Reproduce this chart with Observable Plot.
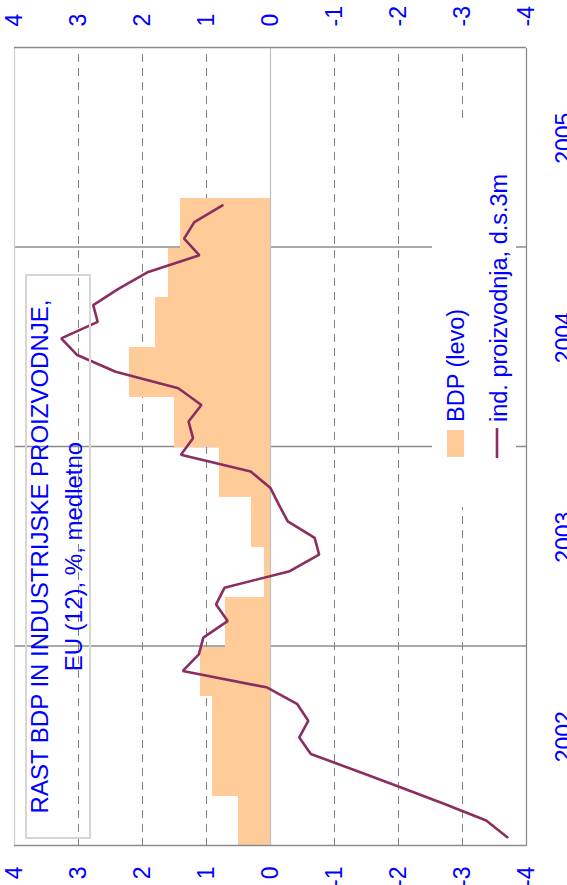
<!DOCTYPE html>
<html>
<head>
<meta charset="utf-8">
<script src="https://cdn.jsdelivr.net/npm/d3@7"></script>
<script src="https://cdn.jsdelivr.net/npm/@observablehq/plot@0.6"></script>
<style>
  html, body { margin: 0; padding: 0; overflow: hidden; background: #fff; width: 567px; height: 885px; }
  #rot { position: absolute; left: 0; top: 0; width: 885px; height: 567px;
         transform-origin: 0 0; transform: translate(0px, 885px) rotate(-90deg); }
  #rot svg { position: absolute; left: 0; top: 0; max-width: none; }
</style>
</head>
<body>
<div id="rot"></div>
<script>
// ---- data ----
const quarters = ["2002Q1","2002Q2","2002Q3","2002Q4","2003Q1","2003Q2","2003Q3","2003Q4",
                  "2004Q1","2004Q2","2004Q3","2004Q4","2005Q1"];
const gdpGrowth = [0.5, 0.9, 0.9, 1.1, 0.7, 0.1, 0.3, 0.8, 1.5, 2.2, 1.8, 1.6, 1.4];

const months = ["2002-01","2002-02","2002-03","2002-04","2002-05","2002-06","2002-07","2002-08","2002-09","2002-10","2002-11","2002-12",
                "2003-01","2003-02","2003-03","2003-04","2003-05","2003-06","2003-07","2003-08","2003-09","2003-10","2003-11","2003-12",
                "2004-01","2004-02","2004-03","2004-04","2004-05","2004-06","2004-07","2004-08","2004-09","2004-10","2004-11","2004-12",
                "2005-01","2005-02","2005-03"];
const indProduction = [-3.70, -3.37, -2.72, -2.03, -1.34, -0.63, -0.45, -0.59, -0.42, 0.05, 1.37, 1.12,
                       1.05, 0.67, 0.85, 0.72, -0.30, -0.76, -0.69, -0.27, -0.13, 0.00, 0.31, 1.40,
                       1.21, 1.28, 1.08, 1.44, 2.42, 3.02, 3.27, 2.70, 2.77, 2.37, 1.91, 1.11,
                       1.35, 1.19, 0.75];

const valueTicks = [4, 3, 2, 1, 0, -1, -2, -3, -4];
const yearLabels = [2002, 2003, 2004, 2005];
const gridValues = [3, 2, 1, -1, -2, -3];
const yearBoundaries = [2003, 2004, 2005];

const titleLines = ["RAST BDP IN INDUSTRIJSKE PROIZVODNJE,", "EU (12), %, medletno"];
const legendLabels = ["BDP (levo)", "ind. proizvodnja, d.s.3m"];

// ---- derived tables ----
const gdpData = quarters.map((q, i) => {
  const yr = +q.slice(0, 4), qn = +q.slice(5);
  const x1 = yr + (qn - 1) / 4;
  return {x1, x2: x1 + 0.25, v: gdpGrowth[i]};
});
const ipData = months.map((m, i) => {
  const yr = +m.slice(0, 4), mn = +m.slice(5);
  return {t: yr + (mn - 0.5) / 12, v: indProduction[i]};
});
const yearMid = yearLabels.map(y => y + 0.5);

const FONT = "Liberation Sans, Arial, Helvetica, sans-serif";
const BLUE = "#0000ff";
const LINE = "#8b2d5f";
const BAR = "#ffcc99";

const chart = Plot.plot({
  width: 885, height: 567,
  marginLeft: 39, marginRight: 48, marginTop: 14, marginBottom: 41,
  x: {domain: [2002, 2006], label: null},
  y: {domain: [-4, 4], label: null},
  style: {fontFamily: FONT, fontSize: "23px", color: BLUE, background: "transparent"},
  marks: [
    Plot.ruleY(gridValues, {stroke: "#808080", strokeDasharray: "8,6", strokeWidth: 1}),
    Plot.ruleX(yearBoundaries, {stroke: "#8c8c8c", strokeWidth: 1.3}),
    Plot.rect(gdpData, {x1: "x1", x2: "x2", y1: () => 0, y2: "v", fill: BAR, shapeRendering: "crispEdges"}),
    Plot.ruleY([0], {stroke: "#c4c4c4", strokeWidth: 1.3}),
    Plot.ruleY([4], {stroke: "#cfcfcf", strokeWidth: 1.3}),
    Plot.ruleY([-4], {stroke: "#8c8c8c", strokeWidth: 1.3}),
    Plot.ruleX([2002, 2006], {stroke: "#8c8c8c", strokeWidth: 1.3}),
    Plot.line(ipData, {x: "t", y: "v", stroke: LINE, strokeWidth: 2.6, strokeLinejoin: "miter"}),
    Plot.axisY(valueTicks, {anchor: "left", tickSize: 0, tickPadding: 21, fontSize: 23, label: null, tickFormat: d => String(d)}),
    Plot.axisY(valueTicks, {anchor: "right", tickSize: 0, tickPadding: 21, fontSize: 23, label: null, tickFormat: d => String(d)}),
    Plot.axisX(yearMid, {anchor: "bottom", tickSize: 0, tickPadding: 29, fontSize: 23, label: null, dx: 9,
                         tickFormat: d => String(Math.floor(d))})
  ]
});
chart.style.maxWidth = "none";
const rot = document.getElementById("rot");
rot.appendChild(chart);

// ---- overlay: title box and legend ----
const ov = d3.create("svg").attr("width", 885).attr("height", 567)
  .style("font-family", FONT);

// title box
ov.append("rect").attr("x", 47).attr("y", 26).attr("width", 563).attr("height", 64)
  .attr("fill", "none").attr("stroke", "#d6d6d6").attr("stroke-width", 2);
ov.selectAll("text.title").data(titleLines).join("text")
  .attr("class", "title")
  .attr("x", 328.5).attr("y", (d, i) => i === 0 ? 48 : 82)
  .attr("text-anchor", "middle").attr("fill", BLUE).attr("font-size", 24)
  .text(d => d);

// legend
ov.append("rect").attr("x", 378).attr("y", 432).attr("width", 385).attr("height", 84).attr("fill", "#fff");
ov.append("rect").attr("x", 428).attr("y", 447).attr("width", 27).attr("height", 17).attr("fill", BAR);
ov.append("line").attr("x1", 427).attr("x2", 457).attr("y1", 497).attr("y2", 497)
  .attr("stroke", LINE).attr("stroke-width", 2.6);
ov.selectAll("text.leg").data(legendLabels).join("text")
  .attr("class", "leg")
  .attr("x", 463).attr("y", (d, i) => i === 0 ? 464 : 507)
  .attr("fill", BLUE).attr("font-size", 23.5)
  .text(d => d);

rot.appendChild(ov.node());
</script>
</body>
</html>
